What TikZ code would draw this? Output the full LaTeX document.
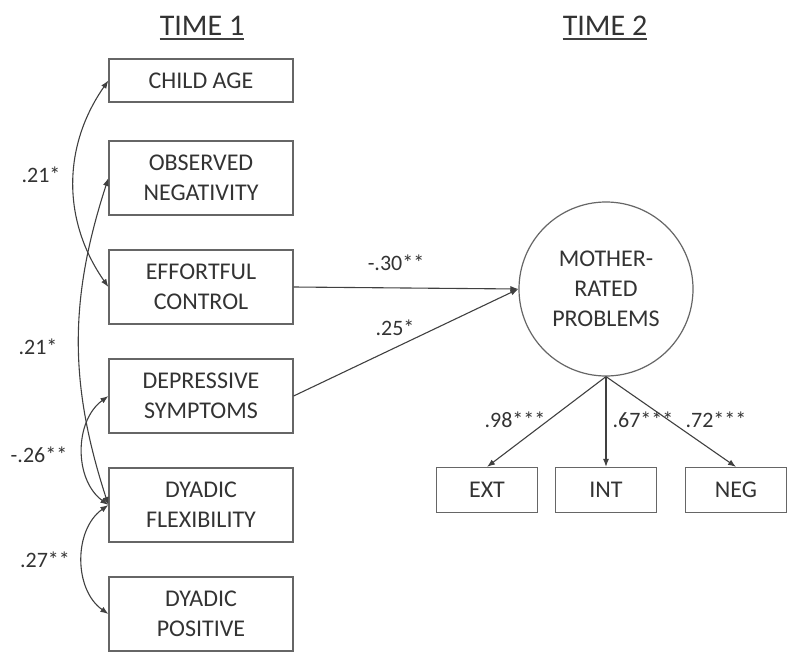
\documentclass[tikz,border=0pt]{standalone}
\usepackage{fontspec}
\setmainfont{Carlito}
\usepackage{tikz}
\usetikzlibrary{arrows.meta}

\begin{document}
\begin{tikzpicture}[x=1pt, y=-1pt, >={Latex[length=8pt,width=6pt]},
  every node/.style = {text=black!80},
  box/.style = {shape=rectangle, draw=black!60, line width=1.2pt, align=center,
    minimum width=184pt, minimum height=43pt, inner sep=2pt,
    font=\fontsize{24}{30}\selectfont},
  tallbox/.style = {box, minimum height=74pt},
  smallbox/.style = {box, minimum width=101pt, minimum height=45pt},
  coef/.style = {font=\fontsize{22}{26}\selectfont, inner sep=1pt},
  title/.style = {font=\fontsize{30}{34}\selectfont, inner sep=0pt},
  link/.style = {draw=black!75, line width=1.1pt}]
  \useasboundingbox (0,0) rectangle (800,666);

  % headings
  \node[title] (tone) at (202,26) {TIME 1};
  \node[title] (ttwo) at (605,26) {TIME 2};
  \draw[line width=2pt, black!75] ([yshift=-3.5pt]tone.base west) -- ([yshift=-3.5pt]tone.base east);
  \draw[line width=2pt, black!75] ([yshift=-3.5pt]ttwo.base west) -- ([yshift=-3.5pt]ttwo.base east);

  % time 1
  \node[box]     (age)    at (201,80.5) {CHILD AGE};
  \node[tallbox] (neg)    at (201,178)  {OBSERVED\\NEGATIVITY};
  \node[tallbox] (effort) at (201,287)  {EFFORTFUL\\CONTROL};
  \node[tallbox] (dep)    at (201,396)  {DEPRESSIVE\\SYMPTOMS};
  \node[tallbox] (flex)   at (201,505)  {DYADIC\\FLEXIBILITY};
  \node[tallbox] (pos)    at (201,614)  {DYADIC\\POSITIVE};

  % time 2
  \node[circle, draw=black!60, line width=1.2pt, minimum size=174pt, align=center,
    font=\fontsize{24}{30}\selectfont] (mrp) at (606,289) {MOTHER-\\RATED\\PROBLEMS};
  \node[smallbox] (ext) at (487,490) {EXT};
  \node[smallbox] (int) at (606,490) {INT};
  \node[smallbox] (nega) at (736,490) {NEG};

  % paths
  \draw[link, ->] (effort.east) -- (mrp.west);
  \draw[link, ->] (dep.east) -- (mrp.west);
  \draw[link, ->] (mrp.south) -- (ext.north);
  \draw[link, ->] (mrp.south) -- (int.north);
  \draw[link, ->] (mrp.south) -- (nega.north);

  % correlations
  \draw[link, <->] (age.west) to[out=235, in=125] (effort.west);
  \draw[link, <->] (neg.west) to[out=252, in=108] (flex.west);
  \draw[link, <->] (dep.west) to[out=216, in=144] (flex.west);
  \draw[link, <->] (flex.west) to[out=215, in=145] (pos.west);

  % coefficients
  \node[coef] (c1) at (41,175) {.21*};
  \node[coef] (c2) at (38,347) {.21*};
  \node[coef] (c3) at (39,455) {-.26**};
  \node[coef] (c4) at (45,560) {.27**};
  \node[coef] (c5) at (396,263) {-.30**};
  \node[coef] (c6) at (395,328) {.25*};
  \node[coef] (c7) at (515,420) {.98***};
  \node[coef] (c8) at (643,420) {.67***};
  \node[coef] (c9) at (716,420) {.72***};
\end{tikzpicture}
\end{document}
